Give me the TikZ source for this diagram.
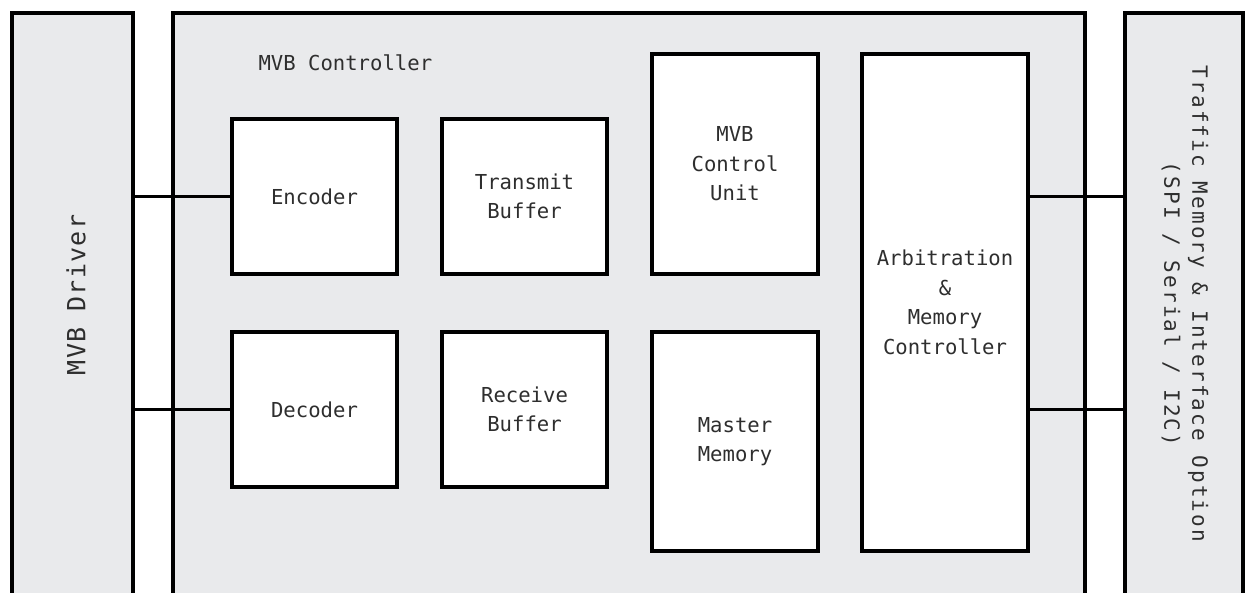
\documentclass[tikz,border=0pt]{standalone}
\usepackage{fontspec}
\newfontfamily\blockfont{DejaVu Sans Mono}
\newfontfamily\drvfont[LetterSpace=5]{DejaVu Sans Mono}
\newfontfamily\sidefont[LetterSpace=10]{DejaVu Sans Mono}
\definecolor{panel}{HTML}{E9EAEC}
\definecolor{ink}{HTML}{2E2E2E}

\begin{document}
\begin{tikzpicture}[x=1pt, y=-1pt,
    panelbox/.style={draw, line width=4pt, fill=panel, inner sep=0pt},
    unit/.style={draw, line width=4pt, fill=white, inner sep=0pt, align=center,
        text=ink, font=\blockfont\fontsize{20.6}{29.5}\selectfont},
    wire/.style={line width=3pt}]
\useasboundingbox (0,0) rectangle (1247,592);
\clip (0,0) rectangle (1247,592);
%outer panels
\node[panelbox, minimum width=121, minimum height=627] (drv) at (72.5,326.5) {}; %driver
\node[panelbox, minimum width=912, minimum height=627] (ctrl) at (629,326.5) {}; %controller
\node[panelbox, minimum width=118, minimum height=627] (trf) at (1184,326.5) {}; %traffic memory
    \node[rotate=90, text=ink, font=\drvfont\fontsize{25}{28}\selectfont] (drvtext) at (76,295) {MVB Driver};
    \node[rotate=-90, align=center, text=ink, font=\sidefont\fontsize{21}{28}\selectfont] (trftext) at (1185,304)
        {Traffic Memory \& Interface Option\\(SPI / Serial / I2C)};
    \node[anchor=base west, text=ink, font=\blockfont\fontsize{20.6}{24}\selectfont] (ctrltext) at (255,70) {MVB Controller};
%inner units
\node[unit, minimum width=165, minimum height=155] (enc) at (314.5,196.5) {Encoder};
\node[unit, minimum width=165, minimum height=155] (txb) at (524.5,196.5) {Transmit\\Buffer};
\node[unit, minimum width=166, minimum height=220] (mcu) at (735,164) {MVB\\Control\\Unit};
\node[unit, minimum width=166, minimum height=497] (arb) at (945,302.5) {Arbitration\\\&\\Memory\\Controller};
\node[unit, minimum width=165, minimum height=155] (dec) at (314.5,409.5) {Decoder};
\node[unit, minimum width=165, minimum height=155] (rxb) at (524.5,409.5) {Receive\\Buffer};
\node[unit, minimum width=166, minimum height=219] (mm) at (735,441.5) {Master\\Memory};
%wires
    \draw[wire] (enc.west -| drv.east) -- (enc.west); %driver-encoder
    \draw[wire] (dec.west -| drv.east) -- (dec.west); %driver-decoder
    \draw[wire] (enc.west -| arb.east) -- (enc.west -| trf.west); %arbitration-traffic top
    \draw[wire] (dec.west -| arb.east) -- (dec.west -| trf.west); %arbitration-traffic bottom
\end{tikzpicture}
\end{document}
